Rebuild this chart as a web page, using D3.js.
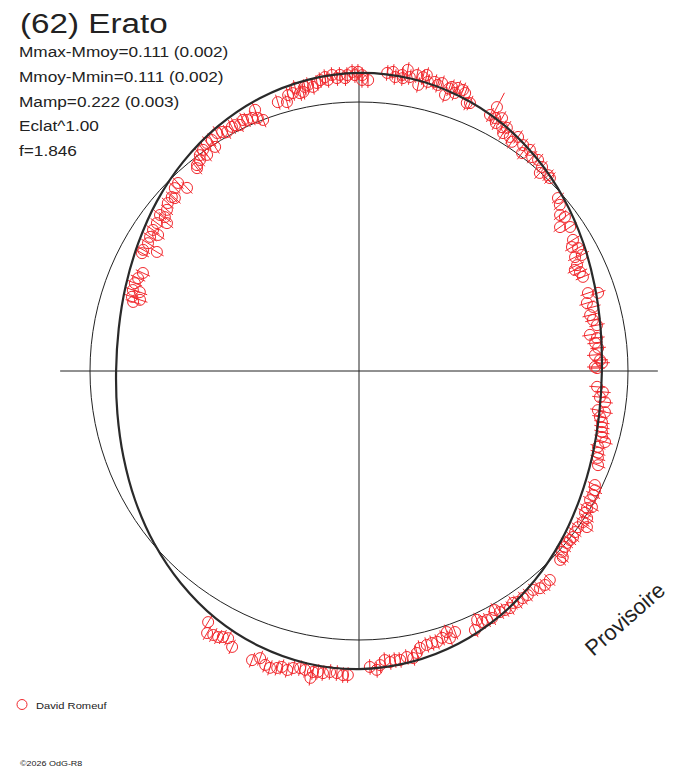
<!DOCTYPE html>
<html>
<head>
<meta charset="utf-8">
<script src="https://cdn.jsdelivr.net/npm/d3@7"></script>
<title>(62) Erato</title>
<style>
  body { margin: 0; background-color: #fff; }
  svg  { display: block; font-family: 'Liberation Sans', Arial, sans-serif; }
</style>
</head>
<body>
<script>
var asteroid  = "(62) Erato";
var infoLines = ["Mmax-Mmoy=0.111 (0.002)",
                 "Mmoy-Mmin=0.111 (0.002)",
                 "Mamp=0.222 (0.003)",
                 "Eclat^1.00",
                 "f=1.846"];
var mMaxMoy  = 0.111;
var observer = "David Romeuf";
var stamp    = "Provisoire";
var credit   = "\u00a92026 OdG-R8";

// fitted curve, relative radius (1 = reference circle) every 10 deg
var fitAngle  = [0,10,20,30,40,50,60,70,80,90,100,110,120,130,140,150,160,170,
                 180,190,200,210,220,230,240,250,260,270,280,290,300,310,320,330,340,350];
var fitRadius = [0.903,0.912,0.932,0.961,0.995,1.030,1.063,1.088,1.104,1.108,1.099,1.079,1.050,1.016,0.981,0.948,0.923,0.907,
                 0.903,0.912,0.932,0.961,0.995,1.030,1.063,1.088,1.104,1.108,1.099,1.079,1.050,1.016,0.981,0.948,0.923,0.907];

// observations: angle (deg, ccw from east) and relative radius
var obsAngle = [
  89.4, 89.4, 88.2, 84.6, 83.5, 83.0, 81.7, 81.5, 80.8, 80.2,
  78.9, 78.3, 77.7, 77.1, 76.6, 75.3, 74.6, 73.9, 72.7, 72.3,
  71.9, 71.0, 70.7, 69.7, 69.1, 68.1, 67.5, 62.4, 62.9, 61.7,
  60.5, 61.1, 59.6, 58.7, 58.8, 57.2, 55.8, 56.3, 54.0, 52.3,
  53.2, 51.0, 49.7, 48.1, 47.6, 46.0, 45.3, 41.0, 39.6, 37.8,
  36.8, 35.6, 34.3, 31.5, 30.2, 29.3, 27.8, 27.5, 25.9, 25.1,
  24.1, 22.8, 18.8, 18.1, 16.6, 15.3, 13.6, 12.3, 10.9, 8.9,
  7.9, 6.8, 5.5, 3.9, 2.6, 1.0, 1.9, 0.7, -3.8, -4.9,
  -6.2, -7.2, -9.3, -9.5, -10.8, -11.9, -13.0, -14.1, -15.2, -16.1,
  -17.6, -18.9, -20.0, -21.5, -25.8, -26.8, -27.9, -29.2, -30.3, -31.0,
  -32.1, -32.8, -34.0, -34.4, -35.5, -36.7, -37.8, -38.7, -39.6, -40.5,
  -41.7, -42.4, -43.2, -47.6, -49.0, -50.2, -51.5, -53.0, -54.2, -55.5,
  -56.4, -57.5, -58.6, -59.7, -60.4, -61.7, -62.8, -63.9, -64.6, -65.9,
  -69.8, -71.4, -71.2, -72.7, -73.9, -75.0, -76.1, -77.6, -78.4, -79.3,
  -80.5, -81.9, -82.9, -83.9, -84.9, -85.9, -86.6, -87.9,
  267.0, 267.9, 265.8, 264.5, 263.2, 262.2, 261.3, 261.0, 259.8, 258.8, 257.5, 256.5,
  255.4, 254.6, 253.3, 252.3, 251.0, 249.7, 245.3, 243.9, 242.9, 242.1, 241.1, 239.9, 239.0,
  90.2, 90.8, 91.3, 92.3, 92.7, 93.7, 94.3, 95.2, 96.1, 96.6,
  97.6, 98.3, 99.2, 100.1, 100.8, 101.3, 102.0, 102.7, 103.4, 104.4,
  105.0, 106.8, 110.9, 111.8, 111.7, 112.9, 114.0, 114.8, 115.8, 116.8,
  117.5, 118.9, 119.8, 120.8, 122.5, 122.7, 123.7, 125.1, 125.2, 126.4,
  127.0, 128.2, 128.6, 133.9, 135.2, 133.2, 137.1, 136.8, 138.7, 140.0,
  141.6, 141.9, 142.4, 143.8, 145.6, 145.9, 147.3, 148.8, 150.7, 149.5,
  151.5, 155.6, 157.2, 158.6, 160.3, 160.2, 161.9, 162.0, 163.0];
var obsRadius = [
  1.100, 1.082, 1.082, 1.113, 1.119, 1.101, 1.112, 1.101, 1.134, 1.109,
  1.121, 1.086, 1.118, 1.129, 1.105, 1.111, 1.103, 1.114, 1.075, 1.102,
  1.111, 1.093, 1.115, 1.114, 1.106, 1.074, 1.078, 1.107, 1.069, 1.068,
  1.080, 1.053, 1.051, 1.058, 1.034, 1.035, 1.052, 1.024, 1.038, 1.039,
  1.012, 1.023, 1.029, 1.019, 0.997, 1.012, 1.009, 0.980, 0.969, 0.946,
  0.956, 0.919, 0.950, 0.933, 0.916, 0.934, 0.908, 0.934, 0.901, 0.886,
  0.900, 0.903, 0.899, 0.935, 0.884, 0.902, 0.884, 0.890, 0.901, 0.869,
  0.893, 0.884, 0.893, 0.879, 0.897, 0.877, 0.904, 0.885, 0.887, 0.910,
  0.901, 0.922, 0.900, 0.927, 0.912, 0.923, 0.927, 0.931, 0.936, 0.952,
  0.932, 0.939, 0.945, 0.955, 0.974, 0.983, 0.985, 0.984, 1.003, 0.989,
  0.992, 1.009, 1.004, 1.027, 1.000, 1.002, 1.007, 1.005, 1.003, 1.007,
  1.011, 1.026, 1.026, 1.052, 1.054, 1.051, 1.040, 1.043, 1.041, 1.042,
  1.035, 1.045, 1.041, 1.038, 1.022, 1.043, 1.041, 1.039, 1.024, 1.055,
  1.034, 1.024, 1.049, 1.039, 1.048, 1.047, 1.049, 1.054, 1.070, 1.086,
  1.078, 1.085, 1.083, 1.088, 1.079, 1.096, 1.113, 1.101,
  1.132, 1.131, 1.126, 1.124, 1.131, 1.129, 1.132, 1.155, 1.129, 1.126, 1.131, 1.143,
  1.137, 1.145, 1.152, 1.147, 1.129, 1.146, 1.129, 1.106, 1.111, 1.119, 1.121, 1.126, 1.089,
  1.112, 1.100, 1.112, 1.101, 1.090, 1.103, 1.092, 1.105, 1.088, 1.100,
  1.091, 1.082, 1.070, 1.080, 1.075, 1.058, 1.056, 1.079, 1.062, 1.059,
  1.035, 1.044, 0.999, 1.013, 1.045, 1.021, 1.022, 1.028, 1.016, 1.024,
  1.023, 1.015, 1.024, 1.030, 1.018, 0.990, 1.019, 0.982, 1.006, 0.997,
  0.982, 0.974, 0.965, 0.970, 0.965, 0.934, 0.950, 0.939, 0.946, 0.932,
  0.921, 0.940, 0.901, 0.931, 0.928, 0.902, 0.923, 0.917, 0.920, 0.872,
  0.918, 0.882, 0.891, 0.895, 0.893, 0.866, 0.888, 0.856, 0.878];
var obsError  = 0.029;       // error bar half length
var wideError = {27: 0.06};  // the one point with a longer bar

var W = 688, H = 768,
    cx = 359, cy = 371, R = 269,
    red = "#f2282d",
    ink = "#222";

var svg = d3.select("body").append("svg")
  .attr("width", W)
  .attr("height", H);

var r = d3.scaleLinear().domain([0, 1]).range([0, R]);
var a = d3.scaleLinear().domain([0, 360]).range([0, 2 * Math.PI]);

function px(t, v){ return  r(v) * Math.cos(a(t)); }
function py(t, v){ return -r(v) * Math.sin(a(t)); }

var plot = svg.append("g").attr("transform", "translate(" + cx + "," + cy + ")");

// reference circle and axes
plot.append("circle")
  .attr("r", r(1))
  .attr("fill", "none")
  .attr("stroke", ink);
var ext = r(1 + mMaxMoy);
plot.append("line").attr("x1", -ext).attr("x2", ext).attr("stroke", ink);
plot.append("line").attr("y1", -ext).attr("y2", ext).attr("stroke", ink);

// observations with radial error bars
var obs = obsAngle.map(function(t, i){ return {t: t, v: obsRadius[i], e: wideError[i] || obsError}; });
var pts = plot.append("g").attr("fill", "none").attr("stroke", red).attr("stroke-width", 1);
pts.selectAll("line").data(obs).enter().append("line")
  .attr("x1", function(d){ return px(d.t, d.v - d.e); })
  .attr("y1", function(d){ return py(d.t, d.v - d.e); })
  .attr("x2", function(d){ return px(d.t, d.v + d.e); })
  .attr("y2", function(d){ return py(d.t, d.v + d.e); });
pts.selectAll("circle").data(obs).enter().append("circle")
  .attr("cx", function(d){ return px(d.t, d.v); })
  .attr("cy", function(d){ return py(d.t, d.v); })
  .attr("r", 5.5);

// fitted lightcurve
var fit = d3.lineRadial()
  .angle(function(d){ return a(90 - d[0]); })
  .radius(function(d){ return r(d[1]); })
  .curve(d3.curveCardinalClosed);
plot.append("path")
  .datum(fitAngle.map(function(t, i){ return [t, fitRadius[i]]; }))
  .attr("d", fit)
  .attr("fill", "none")
  .attr("stroke", "#2a2a2a")
  .attr("stroke-width", 2.2);

// texts
var txt = svg.append("g").attr("fill", ink);
txt.append("text")
  .attr("transform", "translate(20,33) scale(1.23,1)")
  .attr("font-size", 27)
  .text(asteroid);
txt.selectAll("text.info").data(infoLines).enter().append("text")
  .attr("class", "info")
  .attr("transform", function(d, i){ return "translate(19," + (57 + i * 24.75) + ") scale(1.23,1)"; })
  .attr("font-size", 14)
  .text(function(d){ return d; });

txt.append("text")
  .attr("transform", "translate(625,619) rotate(-41.4)")
  .attr("text-anchor", "middle")
  .attr("dominant-baseline", "central")
  .attr("font-size", 22)
  .text(stamp);

svg.append("circle")
  .attr("cx", 22).attr("cy", 704.5).attr("r", 5)
  .attr("fill", "none").attr("stroke", red);
txt.append("text")
  .attr("transform", "translate(36,709) scale(1.24,1)")
  .attr("font-size", 9)
  .text(observer);

txt.append("text")
  .attr("transform", "translate(20,766) scale(1.12,1)")
  .attr("font-size", 8)
  .text(credit);
</script>
</body>
</html>
